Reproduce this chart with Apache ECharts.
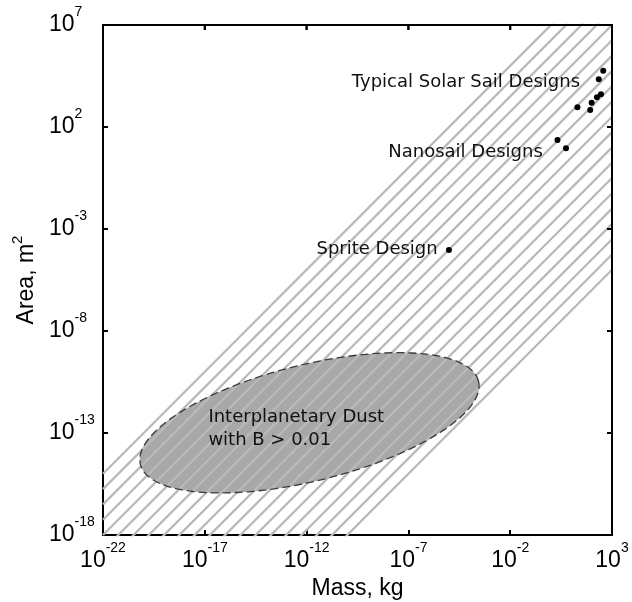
<!DOCTYPE html>
<html><head><meta charset="utf-8">
<script src="https://cdn.jsdelivr.net/npm/echarts@6/dist/echarts.min.js"></script>
<style>html,body{margin:0;padding:0;background:#fff}#c{width:632px;height:602px}</style>
</head><body><div id="c"></div>
<script>
// ---- data ----
const xMin = 1e-22, xMax = 1e3;
const yMin = 1e-18, yMax = 1e7;
const xTickValues = [1e-22, 1e-17, 1e-12, 1e-7, 1e-2, 1e3];
const yTickValues = [1e-18, 1e-13, 1e-8, 1e-3, 1e2, 1e7];

// typical solar sail designs (mass kg, area m^2)
const sailMass = [372, 224, 288, 182, 100, 85, 20];
const sailArea = [57500, 21900, 3980, 2880, 1550, 676, 933];
// nanosail designs
const nanoMass = [2.1, 5.5];
const nanoArea = [23, 9.1];
// sprite design
const spriteMass = [9.8e-6];
const spriteArea = [9.3e-5];

// hatch lines: constant area/mass ratio exponents (log10 of m^2/kg)
const hatchExponents = [7, 6.25, 5.5, 4.75, 4, 3.25, 2.5, 1.75, 1, 0.25, -0.5,
  -1.25, -2, -2.75, -3.5, -4.25, -5, -5.75, -6.5, -7.25, -8];

// interplanetary dust region (ellipse in log-log space)
const dustCenterLogMass = -11.86;
const dustCenterLogArea = -12.5;
const dustSemiMajor = 8.55;   // decades
const dustSemiMinor = 2.85;   // decades
const dustTiltDeg = 13.8;

// annotations: [text, mass, area, side]
const annotations = [
  ['Typical Solar Sail Designs', 27, 1.6e4, 'left'],
  ['Nanosail Designs', 0.4, 5.5, 'left'],
  ['Sprite Design', 2.75e-6, 1.05e-4, 'left'],
  ['Interplanetary Dust\nwith B > 0.01', 1.5e-17, 1.66e-13, 'right']
];

// ---- build ----
const ellipsePts = [];
{
  const t = dustTiltDeg * Math.PI / 180;
  for (let i = 0; i < 180; i++) {
    const a = i / 180 * 2 * Math.PI;
    const u = dustSemiMajor * Math.cos(a), v = dustSemiMinor * Math.sin(a);
    const lx = dustCenterLogMass + u * Math.cos(t) - v * Math.sin(t);
    const ly = dustCenterLogArea + u * Math.sin(t) + v * Math.cos(t);
    ellipsePts.push([Math.pow(10, lx), Math.pow(10, ly)]);
  }
}

const supRich = {
  b: { fontSize: 23, fontFamily: 'Liberation Sans, Arial', color: '#000' },
  s: { fontSize: 14, fontFamily: 'Liberation Sans, Arial', color: '#000', padding: [0, 0, 25, 0] }
};
const fmtPow = v => '{b|10}{s|' + Math.round(Math.log10(v)) + '}';

const axisLine = { show: true, onZero: false, lineStyle: { color: '#000', width: 2 } };
const tickStyle = vals => ({ show: true, inside: true, length: 5, lineStyle: { color: '#000', width: 2 }, customValues: vals });

function frameChildren(toPx) {
  const tl = toPx([xMin, yMax]);
  const br = toPx([xMax, yMin]);
  const st = { stroke: '#000', lineWidth: 2 };
  const ch = [
    { type: 'line', shape: { x1: tl[0] - 1, y1: tl[1], x2: br[0] + 1, y2: tl[1] }, style: st },
    { type: 'line', shape: { x1: br[0], y1: tl[1], x2: br[0], y2: br[1] + 1 }, style: st }
  ];
  xTickValues.forEach(v => {
    const p = toPx([v, yMax]);
    ch.push({ type: 'line', shape: { x1: p[0], y1: tl[1], x2: p[0], y2: tl[1] + 5 }, style: st });
  });
  yTickValues.forEach(v => {
    const p = toPx([xMax, v]);
    ch.push({ type: 'line', shape: { x1: br[0], y1: p[1], x2: br[0] - 5, y2: p[1] }, style: st });
  });
  return ch;
}

const series = [];
// frame (top / right edges with inward ticks), first so nothing else can block it
series.push({
  type: 'custom', z: 10, clip: false,
  data: [[xTickValues[2], yTickValues[2]]],
  renderItem: (params, api) => ({ type: 'group', children: frameChildren(p => api.coord(p)) })
});
series.push({
  type: 'custom', z: 1, silent: true,
  data: ellipsePts,
  renderItem: (params, api) => {
    if (params.dataIndex !== 0) return null;
    return { type: 'polygon', shape: { points: ellipsePts.map(p => api.coord(p)) },
      style: { fill: '#a8a8a8', stroke: null } };
  }
});
hatchExponents.forEach(c => {
  series.push({
    type: 'line', z: 2, silent: true, symbol: 'none', clip: true,
    lineStyle: { color: '#b9b9b9', width: 2.3 },
    data: [[xMin, xMin * Math.pow(10, c)], [xMax, xMax * Math.pow(10, c)]]
  });
});
series.push({
  type: 'custom', z: 3, silent: true,
  data: ellipsePts,
  renderItem: (params, api) => {
    if (params.dataIndex !== 0) return null;
    const pts = ellipsePts.map(p => api.coord(p));
    pts.push(pts[0]);
    return { type: 'polyline', shape: { points: pts },
      style: { fill: null, stroke: '#3a3a3a', lineWidth: 1.3, lineDash: [8, 4] } };
  }
});
const dot = { type: 'scatter', z: 5, symbol: 'circle', symbolSize: 6, itemStyle: { color: '#000', opacity: 1 } };
series.push(Object.assign({}, dot, { data: sailMass.map((m, i) => [m, sailArea[i]]) }));
series.push(Object.assign({}, dot, { data: nanoMass.map((m, i) => [m, nanoArea[i]]) }));
series.push(Object.assign({}, dot, { data: spriteMass.map((m, i) => [m, spriteArea[i]]) }));
series.push({
  type: 'scatter', z: 6, symbolSize: 0, silent: true,
  itemStyle: { opacity: 1 },
  data: annotations.map(a => ({ value: [a[1], a[2]], name: a[0],
    label: { position: a[3], align: a[3] === 'left' ? 'right' : 'left' } })),
  label: { show: true, distance: 0, formatter: p => p.name, fontFamily: 'DejaVu Sans', fontSize: 18,
    color: '#111', opacity: 1, lineHeight: 23, verticalAlign: 'middle' }
});

const chart = echarts.init(document.getElementById('c'), null, { renderer: 'canvas' });
try {
  chart.setOption({
    animation: false,
    grid: { left: 103, top: 25, right: 20, bottom: 67, containLabel: false, outerBoundsMode: 'none',
      show: true, borderColor: '#000', borderWidth: 2, backgroundColor: 'rgba(0,0,0,0)' },
    xAxis: {
      type: 'log', logBase: 10, min: xMin, max: xMax, position: 'bottom',
      axisLine, axisTick: tickStyle(xTickValues), minorTick: { show: false },
      splitLine: { show: false },
      axisLabel: { customValues: xTickValues, formatter: fmtPow, rich: supRich, margin: 6, verticalAlign: 'top' },
      name: 'Mass, kg', nameLocation: 'middle', nameGap: 37,
      nameTextStyle: { fontSize: 23, fontFamily: 'Liberation Sans, Arial', color: '#000', verticalAlign: 'top' }
    },
    yAxis: {
      type: 'log', logBase: 10, min: yMin, max: yMax, position: 'left',
      axisLine, axisTick: tickStyle(yTickValues), minorTick: { show: false },
      splitLine: { show: false },
      axisLabel: { customValues: yTickValues, formatter: fmtPow, rich: supRich, margin: 54, align: 'left' },
      name: 'Area, m{s|2}', nameLocation: 'middle', nameGap: 57, nameRotate: 90,
      nameTextStyle: { fontSize: 23, fontFamily: 'Liberation Sans, Arial', color: '#000',
        rich: { s: { fontSize: 15, fontFamily: 'Liberation Sans, Arial', color: '#000', padding: [0, 0, 18, 0] } } }
    },
    series
  });
} catch (e) { /* keep going so the frame fallback below still runs */ }

// fallback frame through the chart's own coordinate conversion
try {
  const toPx = p => chart.convertToPixel({ gridIndex: 0 }, p);
  chart.setOption({ graphic: [{ type: 'group', z: 100, silent: true, children: frameChildren(toPx) }] });
} catch (e) { }
</script></body></html>
